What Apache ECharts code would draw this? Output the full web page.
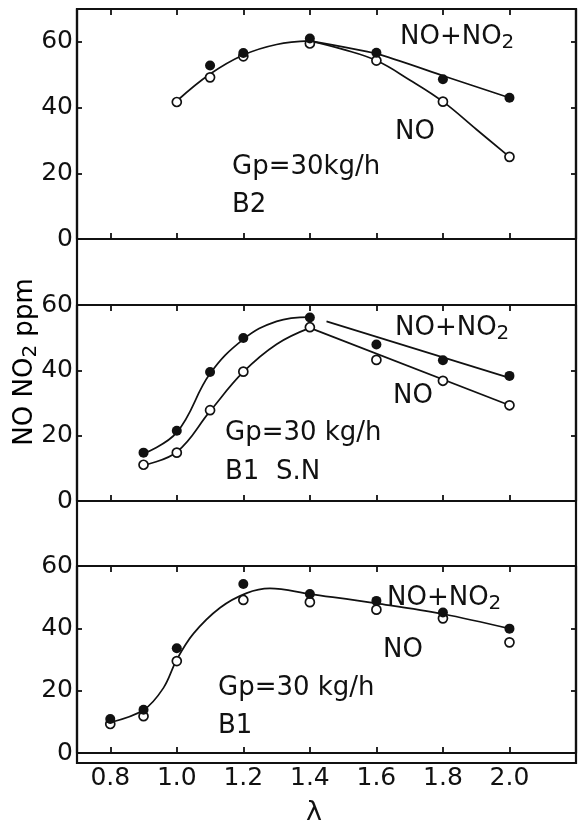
<!DOCTYPE html>
<html>
<head>
<meta charset="utf-8">
<title>NO / NO2 vs excess air ratio</title>
<script src="https://cdn.jsdelivr.net/npm/echarts@6/dist/echarts.min.js"></script>
<style>
  html, body { margin: 0; padding: 0; background: #fff; }
  #chart { width: 583px; height: 827px; }
</style>
</head>
<body>
<div id="chart"></div>
<script>
// Excess air ratio ticks and labels (shared by all panels)
const xTicks = [0.8, 1.0, 1.2, 1.4, 1.6, 1.8, 2.0];
const xTickLabels = ['0.8', '1.0', '1.2', '1.4', '1.6', '1.8', '2.0'];
const yTicks = [0, 20, 40, 60];

// Panel B2 — measured points (ppm)
const lamB2 = [1.0, 1.1, 1.2, 1.4, 1.6, 1.8, 2.0];
const noxB2 = [null, 52.8, 56.6, 61.0, 56.7, 48.6, 43.0];
const noB2  = [41.7, 49.2, 55.6, 59.5, 54.3, 41.8, 25.0];
// Panel B2 — hand-fitted curves
const fitB2Common = [[1.0, 42.0], [1.1, 50.2], [1.2, 56.0], [1.3, 59.2], [1.4, 60.3]];
const fitB2Nox = [[1.4, 60.3], [1.6, 56.4], [1.8, 49.7], [2.0, 43.0]];
const fitB2No  = [[1.4, 60.3], [1.5, 57.7], [1.6, 54.3], [1.7, 48.4], [1.8, 41.8], [1.9, 33.4], [2.0, 25.0]];

// Panel B1 S.N — measured points (ppm)
const lamSN = [0.9, 1.0, 1.1, 1.2, 1.4, 1.6, 1.8, 2.0];
const noxSN = [14.8, 21.5, 39.5, 49.9, 56.2, 47.9, 43.1, 38.3];
const noSN  = [11.1, 14.8, 27.8, 39.6, 53.2, 43.2, 36.8, 29.3];
// Panel B1 S.N — hand-fitted curves
const fitSNNox     = [[0.9, 14.5], [1.0, 21.0], [1.1, 39.0], [1.2, 49.5], [1.3, 55.0], [1.4, 56.3]];
const fitSNNoxTail = [[1.45, 55.0], [2.0, 37.7]];
const fitSNNo      = [[0.9, 11.0], [1.0, 15.0], [1.1, 27.5], [1.2, 39.5], [1.3, 48.0], [1.4, 53.0]];
const fitSNNoTail  = [[1.4, 53.0], [2.0, 29.3]];

// Panel B1 — measured points (ppm)
const lamB1 = [0.8, 0.9, 1.0, 1.2, 1.4, 1.6, 1.8, 2.0];
const noxB1 = [10.9, 13.9, 33.6, 54.2, 51.0, 48.8, 45.1, 39.9];
const noB1  = [9.3, 11.8, 29.5, 49.1, 48.4, 46.0, 43.2, 35.5];
// Panel B1 — hand-fitted curve
const fitB1 = [[0.8, 9.8], [0.9, 13.8], [0.96, 20.9], [1.0, 30.0], [1.05, 38.3], [1.13, 46.6], [1.21, 51.3],
               [1.28, 52.8], [1.4, 51.0], [1.6, 48.0], [1.8, 44.6], [2.0, 39.9]];

const FONT = 'DejaVu Sans';
const INK = '#111';

const pairs = (xs, ys) => xs.map((x, i) => [x, ys[i]]).filter(p => p[1] != null);

const panels = [
  { top: 9,   height: 230, max: 70, labels: false },
  { top: 305, height: 196, max: 60, labels: false },
  { top: 566, height: 197, max: 60, labels: true }
];
const LEFT = 77, WIDTH = 499;

const grid = [{ left: LEFT, width: WIDTH, top: 9, height: 754, show: true, borderColor: INK, borderWidth: 2.2, backgroundColor: 'transparent' }];
const xAxis = [{ gridIndex: 0, type: 'value', min: 0.7, max: 2.2, show: false }];
const yAxis = [{ gridIndex: 0, type: 'value', min: 0, max: 1, show: false }];

const lineOf = w => ({ show: true, lineStyle: { color: INK, width: w } });
const tickOf = (len) => ({ show: true, inside: true, length: len, lineStyle: { color: INK, width: 1.8 } });

panels.forEach((p, k) => {
  const g = k + 1;
  grid.push({ left: LEFT, width: WIDTH, top: p.top, height: p.height });
  // bottom and top edges with λ ticks
  xAxis.push({
    gridIndex: g, type: 'value', min: 0.7, max: 2.2, position: 'bottom',
    axisLine: Object.assign(lineOf(2.2), { onZero: false }),
    axisTick: Object.assign(tickOf(6), { customValues: xTicks }),
    axisLabel: {
      show: p.labels, customValues: xTicks, margin: 13,
      color: INK, fontFamily: FONT, fontSize: 25,
      formatter: v => xTickLabels[xTicks.findIndex(t => Math.abs(t - v) < 1e-6)] || ''
    },
    splitLine: { show: false },
    name: p.labels ? 'λ' : '', nameLocation: 'middle', nameGap: 46,
    nameTextStyle: { color: INK, fontFamily: FONT, fontSize: 27, padding: [0, 25, 0, 0] }
  });
  xAxis.push({
    gridIndex: g, type: 'value', min: 0.7, max: 2.2, position: 'top',
    axisLine: Object.assign(lineOf(2.2), { onZero: false }),
    axisTick: Object.assign(tickOf(6), { customValues: xTicks }),
    axisLabel: { show: false }, splitLine: { show: false }
  });
  // left and right edges with ppm ticks
  yAxis.push({
    gridIndex: g, type: 'value', min: 0, max: p.max, position: 'left',
    axisLine: Object.assign(lineOf(2.2), { onZero: false }),
    axisTick: Object.assign(tickOf(5), { customValues: yTicks }),
    axisLabel: { show: true, customValues: yTicks, margin: 4, color: INK, fontFamily: FONT, fontSize: 25 },
    splitLine: { show: false }
  });
  yAxis.push({
    gridIndex: g, type: 'value', min: 0, max: p.max, position: 'right',
    axisLine: Object.assign(lineOf(2.2), { onZero: false }),
    axisTick: Object.assign(tickOf(5), { customValues: yTicks }),
    axisLabel: { show: false }, splitLine: { show: false }
  });
});

// axis indices for panel k: x bottom = 1 + 2k, y left = 1 + 2k
const ax = k => ({ xAxisIndex: 1 + 2 * k, yAxisIndex: 1 + 2 * k });

const curve = (k, data, smooth) => Object.assign({
  type: 'line', data, smooth: smooth, showSymbol: false, symbol: 'none',
  lineStyle: { color: INK, width: 1.7, opacity: 1 }, z: 2, silent: true
}, ax(k));
const filled = (k, data) => Object.assign({
  type: 'scatter', data, symbol: 'circle', symbolSize: 10,
  itemStyle: { color: INK, opacity: 1 }, z: 4, silent: true
}, ax(k));
const open = (k, data) => Object.assign({
  type: 'scatter', data, symbol: 'circle', symbolSize: 9,
  itemStyle: { color: '#fff', borderColor: INK, borderWidth: 1.7, opacity: 1 }, z: 3, silent: true
}, ax(k));

const series = [
  curve(0, fitB2Common, 0.4), curve(0, fitB2Nox, 0.2), curve(0, fitB2No, 0.4),
  open(0, pairs(lamB2, noB2)), filled(0, pairs(lamB2, noxB2)),

  curve(1, fitSNNox, 0.4), curve(1, fitSNNoxTail, false), curve(1, fitSNNo, 0.4), curve(1, fitSNNoTail, false),
  open(1, pairs(lamSN, noSN)), filled(1, pairs(lamSN, noxSN)),

  curve(2, fitB1, 0.35),
  open(2, pairs(lamB1, noB1)), filled(2, pairs(lamB1, noxB1))
];

const txt = (x, y, text, extra) => ({
  type: 'text', x, y, silent: true,
  style: Object.assign({ text, fill: INK, font: `26px "${FONT}"`, textAlign: 'left', textVerticalAlign: 'middle' }, extra || {})
});
const richSub = {
  a: { fontFamily: FONT, fontSize: 26, color: INK },
  s: { fontFamily: FONT, fontSize: 20, color: INK, padding: [12, 0, 0, 0] }
};
const noxLabel = (x, y) => txt(x, y, '{a|NO+NO}{s|2}', { rich: richSub });

const graphic = [
  noxLabel(400, 37), txt(395, 132, 'NO'), txt(232, 167, 'Gp=30kg/h'), txt(232, 205, 'B2'),
  noxLabel(395, 328), txt(393, 396, 'NO'), txt(225, 433, 'Gp=30 kg/h'), txt(225, 472, 'B1  S.N'),
  noxLabel(387, 598), txt(383, 650, 'NO'), txt(218, 688, 'Gp=30 kg/h'), txt(218, 726, 'B1'),
  {
    type: 'text', x: 25, y: 362, rotation: Math.PI / 2, silent: true,
    style: { text: '{a|NO NO}{s|2}{a| ppm}', rich: richSub, textAlign: 'center', textVerticalAlign: 'middle' }
  }
];

const chart = echarts.init(document.getElementById('chart'), null, { renderer: 'canvas' });
chart.setOption({
  animation: false,
  backgroundColor: '#fff',
  grid, xAxis, yAxis, series, graphic
});
</script>
</body>
</html>
